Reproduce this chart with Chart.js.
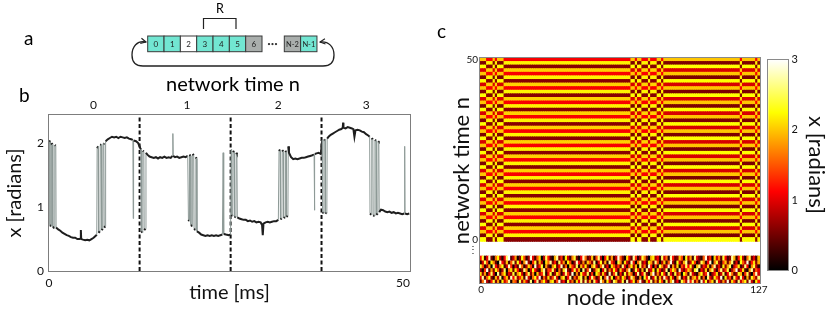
<!DOCTYPE html>
<html>
<head>
<meta charset="utf-8">
<script src="https://cdn.jsdelivr.net/npm/chart.js@4.4.1/dist/chart.umd.min.js"></script>
<style>
  html, body { margin: 0; padding: 0; background: #fff; }
  body { width: 831px; height: 310px; position: relative; overflow: hidden; }
  canvas, svg { position: absolute; }
</style>
</head>
<body>
<canvas id="traceChart" width="420" height="218" style="left:0;top:92px"></canvas>
<canvas id="mapChart" width="330" height="260" style="left:440px;top:50px"></canvas>
<canvas id="scaleChart" width="69" height="230" style="left:762px;top:50px"></canvas>

<svg width="831" height="310" style="left:0;top:0" font-family="Lato, 'Open Sans', sans-serif">
  <defs>
    <marker id="head" viewBox="0 0 8 8" refX="7" refY="4" markerWidth="7" markerHeight="7" orient="auto-start-reverse" markerUnits="userSpaceOnUse">
      <path d="M1,1 L7,4 L1,7" fill="none" stroke="#222" stroke-width="1.3"/>
    </marker>
  </defs>
  <text x="24" y="45" font-size="19">a</text>
  <text x="19" y="102" font-size="19">b</text>
  <text x="437" y="38" font-size="19">c</text>

  <text x="220" y="12.7" font-size="12.5" text-anchor="middle">R</text>
  <path d="M203.5,29 V18.5 H236 V29" fill="none" stroke="#222" stroke-width="1.2"/>
  <g id="cells" stroke="#3a3a3a" stroke-width="1" font-size="8"></g>
  <text x="272.5" y="46" font-size="6" text-anchor="middle" fill="#333">•••</text>
  <path d="M146,42 C137,40 132,47 132,55 C132,62 136,66 143,66 L323,66 C330,66 334,62 334,55 C334,47 329,41 320,42"
        fill="none" stroke="#222" stroke-width="1.3" marker-start="url(#head)" marker-end="url(#head)"/>
  <text x="233" y="91" font-size="20" text-anchor="middle">network time n</text>
</svg>

<script>
// ---- panel a: the delay line ----
const cellNames = ['0', '1', '2', '3', '4', '5', '6', 'N-2', 'N-1'];
const cellKinds = ['on', 'on', 'off', 'on', 'on', 'on', 'mid', 'mid', 'on'];

// ---- panel b: x(t) over four network times ----
const traceTime = [
  0, 0.1, 0.14, 0.3, 0.34, 0.5, 0.54, 0.78, 0.82, 0.96, 1.0, 1.3, 1.6, 1.9, 2.2, 2.5, 2.8, 3.1, 3.4, 3.7,
  4.0, 4.3, 4.45, 4.5, 4.55, 4.8, 5.1, 5.4, 5.7, 6.0, 6.3, 6.6, 6.75, 6.8, 6.95, 7.0, 7.2, 7.25, 7.4, 7.45,
  7.6, 7.65, 7.75, 7.8, 7.95, 8.0, 8.3, 8.6, 8.9, 9.2, 9.5, 9.8, 10.1, 10.4, 10.7, 11.0, 11.3, 11.6, 11.85, 11.9,
  11.95, 12.3, 12.6,
  12.9, 13.0, 13.05, 13.2, 13.25, 13.4, 13.45, 13.65, 13.7, 13.9, 14.2, 14.5, 14.8, 15.1, 15.4, 15.7, 16.0, 16.3, 16.6, 16.9,
  17.2, 17.45, 17.5, 17.55, 17.8, 18.1, 18.4, 18.7, 19.0, 19.3, 19.6, 19.7, 19.8, 19.85, 20.0, 20.05, 20.25, 20.3, 20.45, 20.5,
  20.7, 20.75, 20.85, 20.9, 21.2, 21.5, 21.8, 22.1, 22.4, 22.7, 23.0, 23.3, 23.6, 23.9, 24.2, 24.5, 24.6, 24.68, 25.0, 25.4,
  25.65,
  25.75, 25.8, 25.95, 26.0, 26.15, 26.2, 26.4, 26.45, 26.55, 26.6, 26.9, 27.2, 27.5, 27.8, 28.1, 28.4, 28.7, 29.0, 29.3, 29.6,
  29.9, 30.1, 30.2, 30.3, 30.6, 30.9, 31.2, 31.5, 31.8, 32.1, 32.4, 32.5, 32.65, 32.7, 32.9, 32.95, 33.1, 33.15, 33.35, 33.4,
  33.5, 33.55, 33.75, 33.8, 33.9, 34.2, 34.5, 34.8, 35.1, 35.4, 35.7, 36.0, 36.3, 36.6, 36.9, 37.2, 37.45, 37.5, 37.55, 37.8,
  38.1, 38.4,
  38.6, 38.65, 38.8, 38.85, 39.0, 39.05, 39.25, 39.3, 39.5, 39.8, 40.1, 40.4, 40.7, 41.0, 41.3, 41.5, 41.55, 41.6, 41.9, 42.2,
  42.5, 42.8, 43.0, 43.15, 43.3, 43.6, 43.9, 44.2, 44.5, 44.8, 45.1, 45.3, 45.35, 45.55, 45.6, 45.75, 45.8, 46.0, 46.05, 46.2,
  46.25, 46.45, 46.5, 46.6, 46.65, 46.9, 47.2, 47.5, 47.8, 48.1, 48.4, 48.7, 49.0, 49.3, 49.6, 49.9, 50.2, 50.25, 50.3, 50.6,
  50.9
];
const traceX = [
  2.04, 2.02, 0.72, 0.7, 2.0, 1.98, 0.69, 0.67, 1.97, 1.96, 0.68, 0.65, 0.63, 0.6, 0.58, 0.56, 0.55, 0.53, 0.52, 0.52,
  0.5, 0.5, 0.51, 0.64, 0.5, 0.49, 0.48, 0.49, 0.48, 0.5, 0.52, 0.55, 0.57, 1.92, 1.95, 0.6, 0.62, 1.97, 1.98, 0.64,
  0.66, 1.99, 2.0, 0.68, 0.7, 2.03, 2.06, 2.08, 2.1, 2.09, 2.1, 2.08, 2.1, 2.09, 2.08, 2.09, 2.07, 2.06, 2.05, 0.82,
  2.04, 2.03, 2.0,
  1.92, 1.9, 0.62, 0.6, 1.88, 1.87, 0.64, 0.66, 1.85, 1.82, 1.79, 1.78, 1.77, 1.78, 1.76, 1.78, 1.77, 1.79, 1.77, 1.78,
  1.77, 1.8, 2.15, 1.8, 1.78, 1.79, 1.77, 1.78, 1.79, 1.78, 1.8, 0.8, 0.78, 1.82, 1.8, 0.72, 0.7, 1.83, 1.81, 0.66,
  0.64, 1.78, 1.76, 0.62, 0.6, 0.57, 0.56, 0.55, 0.56, 0.55, 0.56, 0.55, 0.56, 0.55, 0.56, 0.57, 1.85, 0.58, 0.57, 0.56,
  0.57,
  1.9, 0.88, 0.86, 1.88, 1.86, 0.85, 0.84, 1.85, 1.83, 0.84, 0.82, 0.81, 0.8, 0.8, 0.78, 0.79, 0.77, 0.78, 0.76, 0.77,
  0.76, 0.72, 0.56, 0.74, 0.76, 0.77, 0.76, 0.77, 0.78, 0.78, 0.8, 1.9, 1.88, 0.81, 0.82, 1.89, 1.87, 0.83, 0.84, 1.88,
  1.86, 0.85, 0.86, 1.95, 1.85, 1.78, 1.75, 1.76, 1.75, 1.76, 1.77, 1.77, 1.78, 1.79, 1.8, 1.81, 1.82, 0.95, 1.83, 1.84,
  1.85, 1.83,
  2.05, 0.92, 0.9, 2.04, 2.06, 0.91, 0.9, 2.07, 2.1, 2.13, 2.15, 2.17, 2.19, 2.21, 2.22, 2.24, 2.32, 2.24, 2.23, 2.25,
  2.24, 2.23, 2.22, 2.1, 2.2, 2.21, 2.2, 2.18, 2.17, 2.14, 2.12, 2.1, 0.9, 0.88, 2.08, 2.06, 0.87, 0.86, 2.05, 2.04,
  0.88, 0.9, 2.03, 2.02, 0.92, 0.96, 0.95, 0.93, 0.92, 0.93, 0.91, 0.92, 0.9, 0.91, 0.9, 0.89, 0.9, 1.95, 0.9, 0.89,
  0.9
];
const periodEdges = [12.8, 25.66, 38.5];
const periodCenters = [6.3, 19.5, 32.4, 44.8];
const networkTimes = ['0', '1', '2', '3'];
const timeTicks = [0, 50];
const xTicks = [0, 1, 2];

// ---- panel c: node states per network time ----
// 0 = nodes following the first plateau, 1 = nodes following the second plateau
const nodeGroup = [
  1, 1, 1, 0, 0, 0, 1, 0, 1, 1, 1, 0, 0, 0, 0, 0,
  0, 0, 0, 0, 0, 0, 0, 0, 0, 0, 0, 0, 0, 0, 0, 0,
  0, 0, 0, 0, 0, 0, 0, 0, 0, 0, 0, 0, 0, 0, 0, 0,
  0, 0, 0, 0, 0, 0, 0, 0, 0, 0, 0, 0, 0, 0, 0, 0,
  0, 0, 0, 0, 0, 1, 1, 0, 1, 1, 0, 0, 0, 1, 0, 0,
  0, 1, 1, 0, 1, 1, 1, 1, 1, 1, 1, 1, 1, 1, 1, 1,
  1, 1, 1, 1, 1, 1, 1, 1, 1, 1, 1, 1, 1, 1, 1, 1,
  1, 1, 1, 1, 1, 1, 1, 0, 1, 1, 1, 1, 1, 1, 0, 1
];
// x of each group for n mod 4 = 0, 1, 2, 3
const groupLevels = [
  [0.6, 2.2, 1.1, 2.05],
  [2.25, 0.55, 2.0, 0.95]
];
const networkSteps = 51; // n = 0 .. 50
// random initial state rows shown below the gap
const initRows = [
  [1.2,2.4,0.3,1.0,2.8,0.5,0.1,1.6,2.2,0.8,0.2,1.1,2.6,3.0,0.4,0.9, 1.8,0.1,0.6,2.3,1.4,0.2,0.7,2.9,1.0,0.3,1.5,2.1,0.0,0.8,2.5,1.2,
   0.4,0.1,1.9,2.7,0.6,1.3,0.2,2.2,0.9,0.3,1.7,2.4,0.5,0.1,1.1,2.8, 1.6,0.4,0.7,2.0,0.2,1.4,2.6,0.8,0.0,1.2,2.3,0.5,1.8,0.3,0.9,2.9,
   1.5,0.6,0.1,2.1,1.0,0.4,2.7,1.3,0.2,0.8,2.4,1.7,0.5,0.0,1.9,2.2, 0.7,1.1,0.3,2.5,0.9,1.6,0.2,2.8,1.2,0.4,0.6,2.0,1.4,0.1,2.3,0.8,
   1.8,0.3,2.6,1.0,0.5,0.2,1.5,2.9,0.7,1.3,0.0,2.1,0.9,1.7,0.4,2.4, 1.1,0.3,0.6,2.7,1.9,0.2,1.2,2.2,0.8,0.1,1.6,2.5,0.5,1.0,0.3,2.0],
  [0.2,0.9,2.5,1.4,0.1,2.2,1.7,0.4,0.0,2.8,1.1,0.6,2.0,0.3,1.5,2.6, 0.5,2.3,1.0,0.2,1.8,2.9,0.7,0.1,1.3,2.4,0.4,1.9,0.8,0.0,2.1,1.6,
   2.7,0.6,1.2,0.3,2.5,0.9,1.8,0.2,2.2,1.4,0.1,0.7,2.8,1.1,0.4,1.7, 0.3,2.0,1.5,0.6,2.6,0.1,1.0,2.3,0.5,1.9,0.2,2.7,1.3,0.8,0.0,2.4,
   1.7,0.2,2.1,0.9,0.4,2.8,1.2,0.0,1.6,2.5,0.6,1.1,0.3,2.2,1.8,0.5, 2.6,1.4,0.1,0.8,2.0,0.3,1.5,2.9,0.7,0.2,2.3,1.0,0.5,1.9,2.7,0.4,
   0.9,2.2,1.3,0.1,0.6,2.5,1.8,0.3,1.1,2.8,0.0,1.6,2.4,0.7,0.2,1.4, 2.0,0.5,1.7,2.6,0.3,1.0,0.1,2.3,1.5,0.8,2.9,0.4,1.2,2.1,0.6,1.9],
  [2.4,1.5,0.2,0.7,1.9,0.0,2.6,1.1,0.5,1.7,2.3,0.3,0.9,2.8,1.3,0.1, 1.0,0.4,2.7,1.6,0.2,0.8,2.1,1.4,0.3,2.9,0.6,1.2,2.4,0.1,1.8,0.5,
   0.1,1.7,2.3,0.5,1.1,2.8,0.4,1.5,0.0,2.0,1.3,0.7,2.5,0.2,1.9,0.9, 2.2,0.6,0.1,1.8,2.4,0.9,0.3,1.6,2.7,0.4,1.1,0.0,2.1,1.5,0.6,1.3,
   0.4,2.6,1.0,0.2,1.4,2.2,0.7,1.9,0.1,2.5,0.8,1.6,0.3,2.9,1.2,0.0, 1.3,0.2,2.4,1.7,0.5,1.0,2.8,0.3,1.8,0.6,2.1,0.1,1.4,0.9,2.5,1.1,
   2.3,0.7,0.0,1.9,2.6,0.4,1.2,0.8,2.0,0.2,1.6,2.7,0.5,1.0,0.3,2.2, 0.6,1.8,2.5,0.1,0.9,1.4,2.2,0.3,0.7,2.6,1.1,0.0,1.7,2.4,0.8,0.2],
  [0.7,0.1,1.3,2.9,0.4,1.8,0.6,2.2,1.5,0.2,0.8,2.5,0.0,1.6,2.1,0.5, 2.2,1.2,0.3,0.6,2.6,1.7,0.0,0.9,2.3,1.1,0.5,0.2,1.9,2.7,0.4,1.4,
   1.3,2.5,0.8,0.1,1.6,0.4,2.1,2.8,0.6,0.3,1.2,2.4,0.9,1.8,0.0,2.6, 0.5,1.4,2.8,0.2,0.7,1.9,2.3,0.1,1.0,2.5,0.4,1.6,0.8,2.2,1.1,0.3,
   2.0,0.9,0.5,1.6,2.7,0.1,0.6,2.4,1.3,0.3,1.9,0.2,2.6,0.7,1.0,2.3, 0.2,2.1,1.1,0.4,0.8,2.6,0.0,1.4,2.2,1.6,0.3,2.8,0.9,0.5,1.2,2.0,
   1.5,0.4,2.3,2.7,0.1,1.1,0.6,2.0,0.3,1.8,2.5,0.9,0.2,1.4,2.6,0.7, 1.3,2.4,0.2,0.8,1.6,2.9,0.5,1.0,2.1,0.4,0.1,1.8,2.7,0.6,1.5,1.0],
  [2.1,0.6,1.8,0.2,1.1,2.5,0.9,0.0,2.7,0.4,1.6,2.2,0.3,1.0,0.7,2.4, 0.3,1.8,2.2,0.9,0.1,1.4,2.5,0.6,1.7,0.0,2.0,0.8,1.3,2.6,0.2,1.1,
   2.4,0.3,0.7,2.1,1.5,0.2,0.9,2.6,1.3,0.5,2.9,0.1,1.7,0.4,2.3,1.2, 0.8,2.5,0.4,1.3,0.0,2.2,1.7,0.6,2.0,0.9,0.2,2.8,0.5,1.4,2.6,0.1,
   1.2,0.3,2.4,0.7,2.0,1.5,0.1,0.9,2.7,0.4,1.1,2.5,0.6,0.2,1.8,2.9, 0.5,1.7,0.6,2.3,1.2,0.2,2.6,1.0,0.4,2.4,0.8,1.5,0.0,2.2,1.6,0.3,
   2.6,1.0,0.5,0.2,1.7,2.3,0.8,1.3,2.8,0.1,0.7,1.2,2.1,0.4,0.9,2.5, 0.3,1.1,2.6,1.6,0.4,0.7,2.3,1.9,0.2,1.3,2.5,0.6,0.0,1.4,2.8,0.9],
  [1.0,2.7,0.4,1.5,2.3,0.6,0.2,1.9,0.8,2.6,0.1,1.3,2.0,0.5,2.8,1.1, 2.5,0.7,1.3,2.0,0.4,2.8,0.9,0.2,1.6,2.3,1.0,2.9,0.3,1.5,0.6,2.1,
   0.6,1.4,2.6,0.9,0.0,1.8,2.3,0.4,1.1,2.7,0.2,1.5,0.7,2.0,2.5,0.3, 1.9,0.1,1.1,2.6,1.4,0.3,0.8,2.4,0.2,1.5,2.9,0.7,2.3,0.1,1.0,1.8,
   0.6,2.2,1.5,0.3,0.9,2.6,1.8,0.5,0.2,1.7,0.0,2.3,1.2,2.7,0.4,1.0, 2.4,0.4,1.9,0.7,2.8,1.3,0.5,2.1,0.9,0.1,1.6,2.7,0.3,1.2,0.6,2.5,
   0.4,1.7,2.0,0.9,2.4,0.3,1.5,0.1,2.6,1.0,0.5,2.2,1.4,0.8,2.9,0.2, 2.2,0.8,1.4,0.3,2.5,1.2,0.6,2.7,1.0,0.2,1.9,0.4,2.3,1.6,0.7,2.6],
  [0.4,1.6,2.9,0.8,0.3,1.2,2.4,0.6,1.8,0.2,2.2,0.9,1.5,2.7,0.1,1.7, 1.4,0.2,2.5,0.7,1.9,1.0,0.4,2.6,0.1,1.2,2.7,0.5,1.6,2.2,0.9,0.3,
   1.9,2.2,0.5,1.4,2.9,0.7,1.2,0.3,2.4,0.8,1.6,0.2,2.1,1.0,2.6,0.6, 2.6,0.7,1.9,0.4,2.5,1.1,0.5,2.8,1.7,0.3,2.2,1.0,0.4,2.5,1.9,0.6,
   0.9,2.4,0.3,2.8,0.6,1.2,2.2,0.4,1.5,2.9,0.7,0.3,2.0,1.1,2.6,0.5, 1.8,0.6,2.2,1.3,0.1,2.5,0.7,1.9,2.8,0.5,1.1,0.2,2.4,1.7,0.8,2.9,
   1.2,2.6,0.7,1.6,0.3,2.8,0.9,2.3,0.6,1.5,2.1,0.3,2.7,1.1,0.6,1.8, 0.7,2.9,0.5,2.1,1.3,0.4,2.6,0.9,1.7,2.3,0.6,2.8,0.9,0.3,2.2,1.2]
];
const mapYTicks = [50, 0, -3];
const scaleTicks = [0, 1, 2, 3];

// ---------------------------------------------------------------
Chart.defaults.font.family = 'Lato, "Open Sans", sans-serif';
Chart.defaults.color = '#111';

function hot(v) {
  const t = Math.max(0, Math.min(1, v / 3));
  const r = Math.min(1, t / 0.375);
  const g = Math.max(0, Math.min(1, (t - 0.375) / 0.375));
  const b = Math.max(0, (t - 0.75) / 0.25);
  return 'rgb(' + Math.round(r * 255) + ',' + Math.round(g * 255) + ',' + Math.round(b * 255) + ')';
}
const hotStops = [[0, '#000000'], [0.375, '#ff0000'], [0.75, '#ffff00'], [1, '#ffffff']];

const framePlugin = {
  id: 'frame',
  afterDatasetsDraw(chart, args, opts) {
    const a = chart.chartArea;
    const ctx = chart.ctx;
    ctx.save();
    ctx.strokeStyle = opts.color || '#808080';
    ctx.lineWidth = 1;
    ctx.strokeRect(Math.round(a.left) - 0.5, Math.round(a.top) - 0.5,
      Math.round(a.right - a.left) + 1, Math.round(a.bottom - a.top) + 1);
    ctx.restore();
  }
};

// panel a cells
(function () {
  const g = document.getElementById('cells');
  const fills = { on: '#72e6d2', off: '#ffffff', mid: '#a9aeac' };
  const ns = 'http://www.w3.org/2000/svg';
  cellNames.forEach((name, i) => {
    const x = i < 7 ? 147.7 + i * 16.33 : 284.3 + (i - 7) * 16.33;
    const r = document.createElementNS(ns, 'rect');
    r.setAttribute('x', x); r.setAttribute('y', 36);
    r.setAttribute('width', 16.33); r.setAttribute('height', 15.7);
    r.setAttribute('fill', fills[cellKinds[i]]);
    g.appendChild(r);
    const t = document.createElementNS(ns, 'text');
    t.setAttribute('x', x + 8.2); t.setAttribute('y', 46.8);
    t.setAttribute('text-anchor', 'middle');
    t.setAttribute('stroke', 'none'); t.setAttribute('fill', '#222');
    if (name.length > 1) t.setAttribute('font-size', 7.5);
    t.textContent = name;
    g.appendChild(t);
  });
})();

// panel b
const yTop = 2.44;
const traceData = traceTime.map((t, i) => ({ x: t, y: traceX[i] }));
const dashSets = periodEdges.map(t => ({
  data: [{ x: t, y: 0 }, { x: t, y: yTop }],
  xAxisID: 'x', yAxisID: 'y',
  borderColor: '#111', borderWidth: 2, borderDash: [4, 2.5], pointRadius: 0
}));
const isJump = c => Math.abs(c.p1.parsed.y - c.p0.parsed.y) > 0.3;

new Chart(document.getElementById('traceChart'), {
  type: 'line',
  data: {
    datasets: [{
      data: traceData,
      xAxisID: 'x', yAxisID: 'y',
      borderColor: '#1e1e1e', borderWidth: 2, pointRadius: 0, tension: 0,
      segment: {
        borderColor: c => isJump(c) ? '#8e9a97' : '#1e1e1e',
        borderWidth: c => isJump(c) ? 1 : 2
      }
    }, ...dashSets]
  },
  options: {
    responsive: false,
    animation: false,
    layout: { padding: 0 },
    plugins: { legend: { display: false }, tooltip: { enabled: false }, frame: { color: '#7d7d7d' } },
    scales: {
      x: {
        type: 'linear', position: 'bottom', min: 0, max: 51,
        grid: { display: false, drawTicks: false }, border: { display: false },
        ticks: { padding: 4.8, font: { size: 12 }, color: '#111' },
        afterBuildTicks: s => { s.ticks = timeTicks.map(v => ({ value: v })); },
        afterFit: s => { s.height = 39; },
        title: { display: true, text: 'time [ms]', color: '#111', font: { size: 20, lineHeight: 1 }, padding: { top: 0, bottom: 7 } }
      },
      xTop: {
        type: 'linear', position: 'top', min: 0, max: 51,
        grid: { display: false, drawTicks: false }, border: { display: false },
        ticks: { padding: 2.8, font: { size: 12 }, color: '#111', callback: (v, i) => networkTimes[i] },
        afterBuildTicks: s => { s.ticks = periodCenters.map(v => ({ value: v })); },
        afterFit: s => { s.height = 23; }
      },
      y: {
        type: 'linear', position: 'left', min: 0, max: yTop,
        grid: { display: false, drawTicks: false }, border: { display: false },
        ticks: { padding: 5, font: { size: 12 }, color: '#111' },
        afterBuildTicks: s => { s.ticks = xTicks.map(v => ({ value: v })); },
        afterFit: s => { s.width = 49; },
        title: { display: true, text: 'x [radians]', color: '#111', font: { size: 20, lineHeight: 1 }, padding: { top: 5, bottom: 0 } }
      },
      yRight: {
        type: 'linear', position: 'right', min: 0, max: yTop,
        grid: { display: false, drawTicks: false }, border: { display: false },
        ticks: { display: false },
        afterFit: s => { s.width = 10; }
      }
    }
  },
  plugins: [framePlugin]
});

// panel c heatmap
const nodeLabels = nodeGroup.map((g, i) => String(i));
const mapSets = [];
for (let n = 0; n < networkSteps; n++) {
  mapSets.push({
    data: nodeGroup.map(() => [n - 0.5, n + 0.5]),
    backgroundColor: nodeGroup.map(g => hot(groupLevels[g][n % 4]))
  });
}
const initTop = -4.66, initRowH = 1.067;
initRows.forEach((row, k) => {
  const top = initTop - k * initRowH;
  mapSets.push({
    data: row.map(() => [top - initRowH, top]),
    backgroundColor: row.map(v => hot(v))
  });
});

new Chart(document.getElementById('mapChart'), {
  type: 'bar',
  data: { labels: nodeLabels, datasets: mapSets },
  options: {
    responsive: false,
    animation: false,
    layout: { padding: { top: 7, right: 10, left: 0, bottom: 0 } },
    datasets: {
      bar: { grouped: false, barPercentage: 1, categoryPercentage: 1, borderWidth: 0, inflateAmount: 0.5 }
    },
    plugins: { legend: { display: false }, tooltip: { enabled: false }, frame: { color: '#8a8a8a' } },
    scales: {
      x: {
        type: 'category', offset: true,
        grid: { display: false, drawTicks: false }, border: { display: false },
        ticks: { padding: 1, font: { size: 10 }, color: '#111', maxRotation: 0, autoSkip: false },
        afterBuildTicks: s => { s.ticks = s.ticks.filter(t => t.value === 0 || t.value === 127); },
        afterFit: s => { s.height = 27; },
        title: { display: true, text: 'node index', color: '#111', font: { size: 22, lineHeight: 1 }, padding: { top: 0, bottom: 1.5 } }
      },
      y: {
        type: 'linear', min: -12.13, max: 50.5,
        grid: { display: false, drawTicks: false }, border: { display: false },
        ticks: { padding: 2, font: { size: 10 }, color: '#111', callback: v => v === -3 ? '⋮' : String(v) },
        afterBuildTicks: s => { s.ticks = mapYTicks.map(v => ({ value: v })); },
        afterFit: s => { s.width = 40; },
        title: { display: true, text: 'network time n', color: '#111', font: { size: 22, lineHeight: 1 }, padding: { top: 11, bottom: 0 } }
      }
    }
  },
  plugins: [framePlugin]
});

// colour scale
new Chart(document.getElementById('scaleChart'), {
  type: 'bar',
  data: {
    labels: ['x'],
    datasets: [{
      data: [[0, 3]],
      barPercentage: 1, categoryPercentage: 1, borderWidth: 0,
      backgroundColor: c => {
        const y = c.chart.scales.y;
        if (!y || !c.chart.chartArea) return '#000';
        const grad = c.chart.ctx.createLinearGradient(0, y.getPixelForValue(0), 0, y.getPixelForValue(3));
        hotStops.forEach(s => grad.addColorStop(s[0], s[1]));
        return grad;
      }
    }]
  },
  options: {
    responsive: false,
    animation: false,
    layout: { padding: { left: 6.3, top: 7.3, bottom: 9.3, right: 0 } },
    plugins: { legend: { display: false }, tooltip: { enabled: false }, frame: { color: '#8a8a8a' } },
    scales: {
      x: { display: false },
      y: {
        type: 'linear', position: 'right', min: 0, max: 3,
        grid: { display: false, drawTicks: false }, border: { display: false },
        ticks: { padding: 3.2, font: { size: 11 }, color: '#111' },
        afterBuildTicks: s => { s.ticks = scaleTicks.map(v => ({ value: v })); },
        afterFit: s => { s.width = 42.7; },
        title: { display: true, text: 'x [radians]', color: '#111', font: { size: 22, lineHeight: 1 }, padding: { top: 3.5, bottom: 0 } }
      }
    }
  },
  plugins: [framePlugin]
});
</script>
</body>
</html>
